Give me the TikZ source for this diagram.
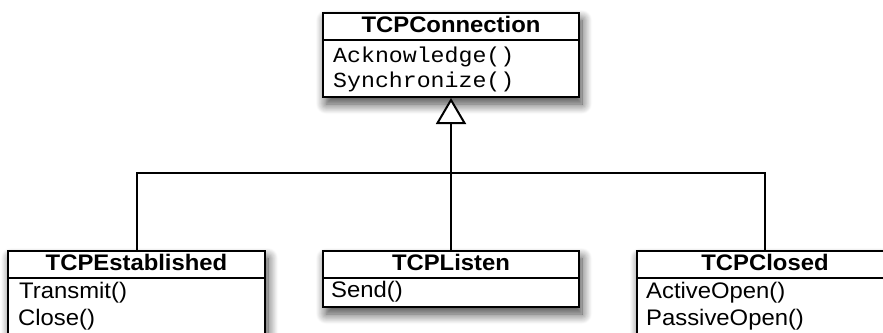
\documentclass[tikz,border=0pt]{standalone}
\usepackage{fontspec}
\setmainfont{Liberation Sans}[FakeStretch=1.06]
\newfontfamily\monof{Liberation Mono}[FakeStretch=1.08]
\usetikzlibrary{shadows.blur,arrows.meta}
\begin{document}
\begin{tikzpicture}[x=1pt,y=-1pt,
  classbox/.style={draw=black, line width=2pt, fill=white, inner sep=0pt,
    blur shadow={shadow xshift=3pt, shadow yshift=-7pt, shadow blur radius=10pt, shadow blur steps=12, shadow opacity=75}},
  title/.style={anchor=base, inner sep=0pt, font=\fontsize{22.5}{25}\selectfont\bfseries},
  meth/.style={anchor=base west, inner sep=0pt, font=\fontsize{22.5}{25}\selectfont},
  mmeth/.style={anchor=base west, inner sep=0pt, font=\fontsize{21.5}{25}\selectfont\monof},
  divider/.style={line width=1.7pt},
  link/.style={line width=2pt}]
\useasboundingbox (0,0) rectangle (883,332);
\clip (0,0) rectangle (883,332);
% top class
\node[classbox, minimum width=256pt, minimum height=84pt, anchor=north] (conn) at (451,12) {};
\draw[divider] ([yshift=-28pt]conn.north west) -- ([yshift=-28pt]conn.north east);
\node[title] (connName) at (451,32) {TCPConnection};
\node[mmeth] (connM1) at (333,62) {Acknowledge()};
\node[mmeth] (connM2) at (333,87) {Synchronize()};
% TCPEstablished
\node[classbox, minimum width=257pt, minimum height=100pt, anchor=north] (est) at (136.5,250) {};
\draw[divider] ([yshift=-28pt]est.north west) -- ([yshift=-28pt]est.north east);
\node[title] (estName) at (136.5,270) {TCPEstablished};
\node[meth] (estM1) at (19,298) {Transmit()};
\node[meth] (estM2) at (18,325) {Close()};
% TCPListen
\node[classbox, minimum width=256pt, minimum height=56pt, anchor=north] (listen) at (451,250) {};
\draw[divider] ([yshift=-28pt]listen.north west) -- ([yshift=-28pt]listen.north east);
\node[title] (listenName) at (451,270) {TCPListen};
\node[meth] (listenM1) at (331,297) {Send()};
% TCPClosed
\node[classbox, minimum width=256pt, minimum height=100pt, anchor=north] (closed) at (765,250) {};
\draw[divider] ([yshift=-28pt]closed.north west) -- ([yshift=-28pt]closed.north east);
\node[title] (closedName) at (765,270) {TCPClosed};
\node[meth] (closedM1) at (646,298) {ActiveOpen()};
\node[meth] (closedM2) at (646,325) {PassiveOpen()};
% connectors
\coordinate (bus) at (451,173);
\draw[link] (est.north) |- (bus) -| (closed.north);
\draw[link, -{Triangle[open, length=26pt, width=30pt, fill=white]}] (listen.north) -- (conn.south);
\end{tikzpicture}
\end{document}
